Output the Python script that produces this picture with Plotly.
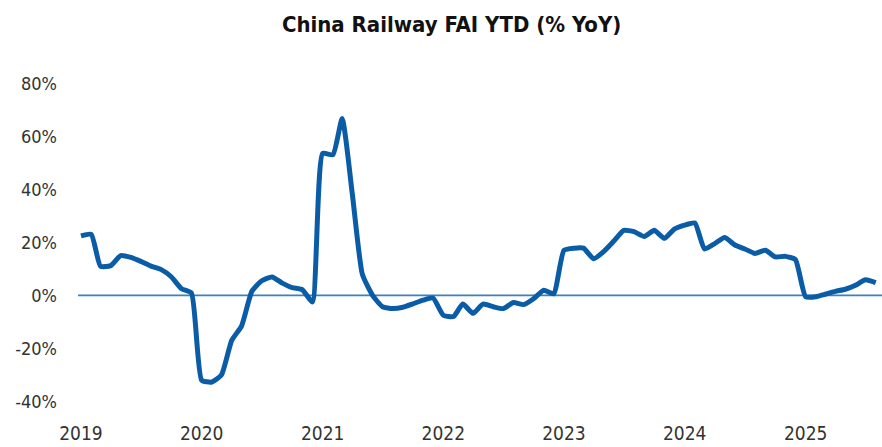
import pandas as pd
import plotly.graph_objects as go

# Monthly observations, Jan 2019 - Aug 2025 (YTD % YoY)
months = pd.date_range("2019-01-01", "2025-08-01", freq="MS")
yoy = [
    # 2019
    22.4, 23.0, 11.0, 11.2, 15.0, 14.3, 12.8, 11.0, 9.7, 7.0, 2.5, 0.9,
    # 2020
    -32.0, -32.7, -30.0, -17.0, -11.5, 1.5, 5.5, 6.9, 4.6, 2.9, 2.1, -2.5,
    # 2021
    53.5, 53.0, 66.7, 38.0, 8.0, 0.0, -4.3, -5.0, -4.5, -3.2, -1.8, -1.0,
    # 2022
    -7.5, -8.0, -3.3, -6.8, -3.3, -4.3, -5.0, -2.7, -3.5, -1.3, 1.9, 0.6,
    # 2023
    17.0, 17.8, 17.8, 13.8, 16.5, 20.5, 24.5, 24.0, 22.2, 24.5, 21.5, 25.0,
    # 2024
    26.5, 27.3, 17.5, 19.5, 21.8, 19.0, 17.5, 15.8, 17.0, 14.5, 14.7, 13.5,
    # 2025
    -0.5, -0.5, 0.4, 1.5, 2.3, 3.8, 5.9, 4.8,
]

year_ticks = ["2019", "2020", "2021", "2022", "2023", "2024", "2025"]
y_ticks = [-40, -20, 0, 20, 40, 60, 80]

LINE_BLUE = "#0b5ca6"
ZERO_BLUE = "#3f7fbf"
TEXT = "#333333"
FONT = "DejaVu Sans Condensed, Roboto, sans-serif"

fig = go.Figure()

fig.add_trace(go.Scatter(
    x=months,
    y=yoy,
    mode="lines",
    line=dict(color=LINE_BLUE, width=5, shape="spline", smoothing=0.5),
    hoverinfo="x+y",
    showlegend=False,
))

# Zero reference line
fig.add_shape(
    type="line", xref="paper", yref="y",
    x0=0, x1=1, y0=0, y1=0,
    line=dict(color=ZERO_BLUE, width=1.8),
    layer="below",
)

fig.update_layout(
    width=882,
    height=447,
    margin=dict(l=78, r=0, t=62, b=35),
    paper_bgcolor="white",
    plot_bgcolor="white",
    font=dict(family=FONT, size=18, color=TEXT),
    title=dict(
        text="<b>China Railway FAI YTD (% YoY)</b>",
        x=0.512, xanchor="center",
        y=0.946, yanchor="middle",
        xref="container", yref="container",
        font=dict(family=FONT, size=22, color="#111111"),
    ),
)

fig.update_xaxes(
    type="date",
    range=["2018-12-23", "2025-08-20"],
    tickvals=[f"{y}-01-01" for y in year_ticks],
    ticktext=year_ticks,
    showgrid=False,
    zeroline=False,
    showline=False,
    ticks="",
    ticklabelstandoff=8,
    tickfont=dict(family=FONT, size=19, color=TEXT),
)

fig.update_yaxes(
    range=[-44, 88],
    tickvals=y_ticks,
    ticktext=[f"{v}%" for v in y_ticks],
    showgrid=False,
    zeroline=False,
    showline=False,
    ticks="",
    ticklabelstandoff=20,
    tickfont=dict(family=FONT, size=18, color=TEXT),
)

fig.write_html("out.html")
